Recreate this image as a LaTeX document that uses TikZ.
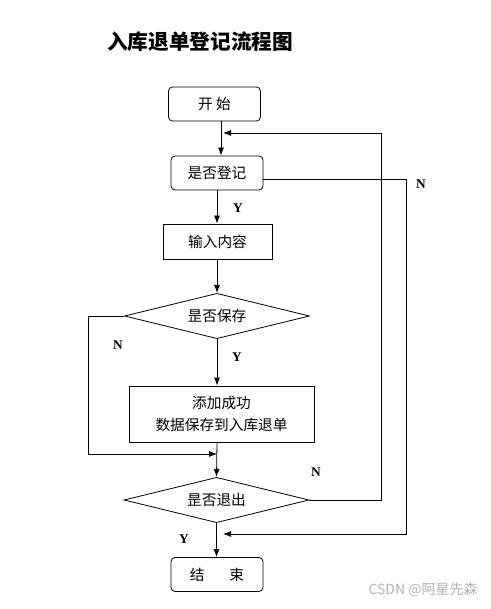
\documentclass[tikz,border=0pt]{standalone}
\usepackage{fontspec}
\setmainfont{Noto Sans CJK SC}
\newfontfamily\ynfont{Liberation Serif}
\usetikzlibrary{shapes.geometric,arrows.meta,calc}
\tikzset{every path/.style={line width=0.6pt}, every node/.style={inner sep=0pt, font=\fontsize{11}{17}\selectfont}}
\tikzset{term/.style={draw, rounded corners=3pt, minimum width=69pt, minimum height=25.5pt},
  proc/.style={draw, minimum width=81.75pt, minimum height=26.25pt, align=center},
  cond/.style={draw, diamond, aspect=4, minimum width=138.75pt, minimum height=34pt},
  yn/.style={font=\ynfont\bfseries\fontsize{10}{12}\selectfont},
  arr/.style={-{Latex[length=6pt,width=4.5pt]}}}

\begin{document}
\begin{tikzpicture}[x=0.75pt,y=-0.75pt]
   \useasboundingbox (0,0) rectangle (490,609);
   \node[font=\bfseries\fontsize{15.5}{18}\selectfont] (title) at (200,42) {入库退单登记流程图};
   \node[term] (start) at (214.5,104) {开 始};
   \node[term] (reg) at (217,173) {是否登记};
   \node[proc] (input) at (217.5,241.5) {输入内容};
   \node[cond] (save) at (217,316) {昰否保存};
   \node[proc, minimum width=138.75pt, minimum height=42pt] (ok) at (221.5,414) {添加成功\\数据保存到入库退单};
   \node[cond] (quit) at (216.5,500) {昰否退出};
   \node[term] (stop) at (217,574.5) {结\hspace{1.7em}束};
   % loop points
   \coordinate (b1) at (381,133);
   \coordinate (t1) at (223,133);
   \coordinate (r1) at (406,179);
   \coordinate (r2) at (223,534);
   \coordinate (l1) at (88,454);
   \coordinate (m1) at (217,454);
   \draw[arr] ($(start.south)+(6.5,0)$) -- ($(reg.north)+(4,0)$);
   \draw[arr] (reg.south) -- (reg.south |- input.north);
   \draw[arr] (input.south -| save.north) -- (save.north);
   \draw[arr] (save.south) -- (save.south |- ok.north);
   \draw[arr] (save.west) -| (l1) -- (m1);
   \draw[arr] (save.south |- ok.south) -- (quit.north);
   \draw[arr] (quit.south) -- (quit.south |- stop.north);
   \draw[arr] (quit.east) -| (b1) -- (t1);
   \draw[arr] (reg.east |- r1) -- (r1) |- (r2);
   % labels
   \node[yn] (n1) at (421,184) {N};
   \node[yn] (y1) at (238,208) {Y};
   \node[yn] (n2) at (118,345) {N};
   \node[yn] (y2) at (237,357) {Y};
   \node[yn] (n3) at (316,472) {N};
   \node[yn] (y3) at (184,539) {Y};
   \node[text=black!30, font=\fontsize{10.5}{12}\selectfont, anchor=east] (wm) at (478,590) {CSDN @阿星先森};
  \end{tikzpicture}
\end{document}
